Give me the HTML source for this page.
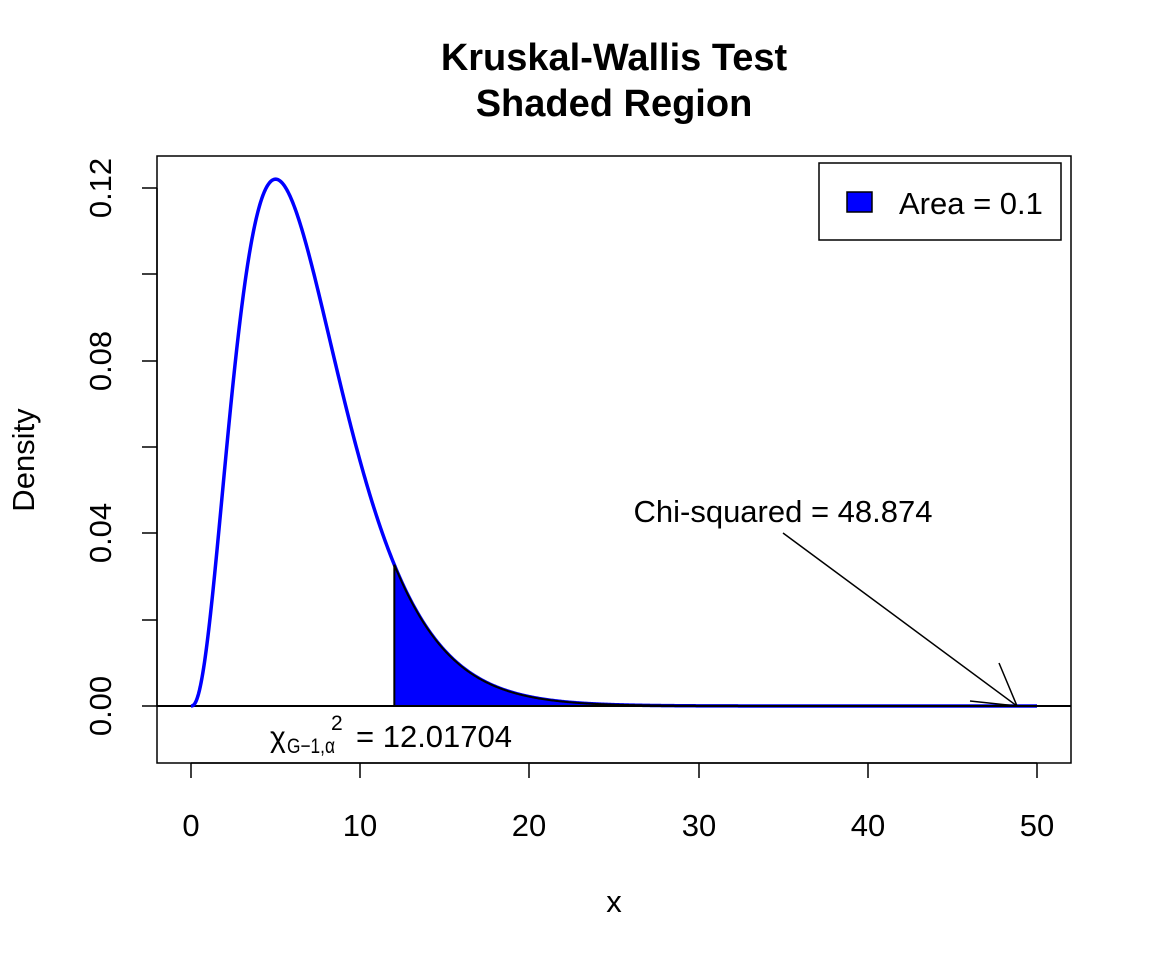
<!DOCTYPE html>
<html><head><meta charset="utf-8"><style>
html,body{margin:0;padding:0;background:#fff;}
svg{display:block;font-family:"Liberation Sans",Arial,sans-serif;}
</style></head><body>
<svg id="s" width="1152" height="960" viewBox="0 0 1152 960" xmlns="http://www.w3.org/2000/svg">
<rect width="1152" height="960" fill="#fff"/>
<text x="614" y="70" font-size="38" font-weight="bold" text-anchor="middle">Kruskal-Wallis Test</text>
<text x="614" y="116" font-size="38" font-weight="bold" text-anchor="middle">Shaded Region</text>
<line x1="157" y1="706" x2="1071" y2="706" stroke="#000" stroke-width="2"/>
<path id="curve" fill="none" stroke="#0000ff" stroke-width="3.5"/>
<path id="shade" fill="#0000ff" stroke="#000" stroke-width="2"/>
<rect x="157" y="156" width="914" height="607" fill="none" stroke="#000" stroke-width="1.5"/>
<g stroke="#000" stroke-width="1.5">
<line x1="191" y1="763" x2="1037" y2="763"/>
<line x1="191" y1="763" x2="191" y2="778"/><line x1="360" y1="763" x2="360" y2="778"/>
<line x1="529" y1="763" x2="529" y2="778"/><line x1="699" y1="763" x2="699" y2="778"/>
<line x1="868" y1="763" x2="868" y2="778"/><line x1="1037" y1="763" x2="1037" y2="778"/>
<line x1="157" y1="188" x2="157" y2="706"/>
<line x1="157" y1="706" x2="142" y2="706"/><line x1="157" y1="620" x2="142" y2="620"/>
<line x1="157" y1="533" x2="142" y2="533"/><line x1="157" y1="447" x2="142" y2="447"/>
<line x1="157" y1="361" x2="142" y2="361"/><line x1="157" y1="274" x2="142" y2="274"/>
<line x1="157" y1="188" x2="142" y2="188"/>
</g>
<g font-size="31" text-anchor="middle">
<text x="191" y="836">0</text><text x="360" y="836">10</text><text x="529" y="836">20</text>
<text x="699" y="836">30</text><text x="868" y="836">40</text><text x="1037" y="836">50</text>
<text x="614" y="912">x</text>
<text transform="translate(111,706) rotate(-90)">0.00</text>
<text transform="translate(111,533) rotate(-90)">0.04</text>
<text transform="translate(111,361) rotate(-90)">0.08</text>
<text transform="translate(111,188) rotate(-90)">0.12</text>
<text transform="translate(34,460) rotate(-90)">Density</text>
<text x="783" y="522">Chi-squared = 48.874</text>
</g>
<g stroke="#000" stroke-width="1.5">
<line x1="783" y1="533" x2="1017" y2="706"/>
<line x1="999" y1="663" x2="1017" y2="706"/>
<line x1="970" y1="701" x2="1017" y2="706"/>
</g>
<text x="270" y="747" font-size="30">χ</text>
<text x="287" y="753" font-size="21" textLength="48" lengthAdjust="spacingAndGlyphs">G−1,α</text>
<text x="331" y="730" font-size="21">2</text>
<text x="356" y="747" font-size="31">= 12.01704</text>
<rect x="819" y="163" width="242" height="77" fill="#fff" stroke="#000" stroke-width="1.5"/>
<rect x="847" y="192" width="25" height="20" fill="#0000ff" stroke="#000" stroke-width="1.5"/>
<text x="899" y="214" font-size="31">Area = 0.1</text>
</svg>
<script>
function f(x){if(x<=0)return 0;return Math.pow(x,2.5)*Math.exp(-x/2)/(11.3137085*3.32335097);}
function X(x){return 191+x*16.92;}function Y(y){return 706-y*4316.7;}
var d="";for(var i=0;i<=1000;i++){var x=i*0.05;d+=(i?"L":"M")+X(x).toFixed(2)+","+Y(f(x)).toFixed(2);}
document.getElementById("curve").setAttribute("d",d);
var c=12.01704,s="M"+X(c)+","+Y(0);for(var x=c;x<=50.0001;x+=0.05){s+="L"+X(x).toFixed(2)+","+Y(f(x)).toFixed(2);}
s+="L"+X(50)+","+Y(0)+"Z";document.getElementById("shade").setAttribute("d",s);
</script>
</body></html>
